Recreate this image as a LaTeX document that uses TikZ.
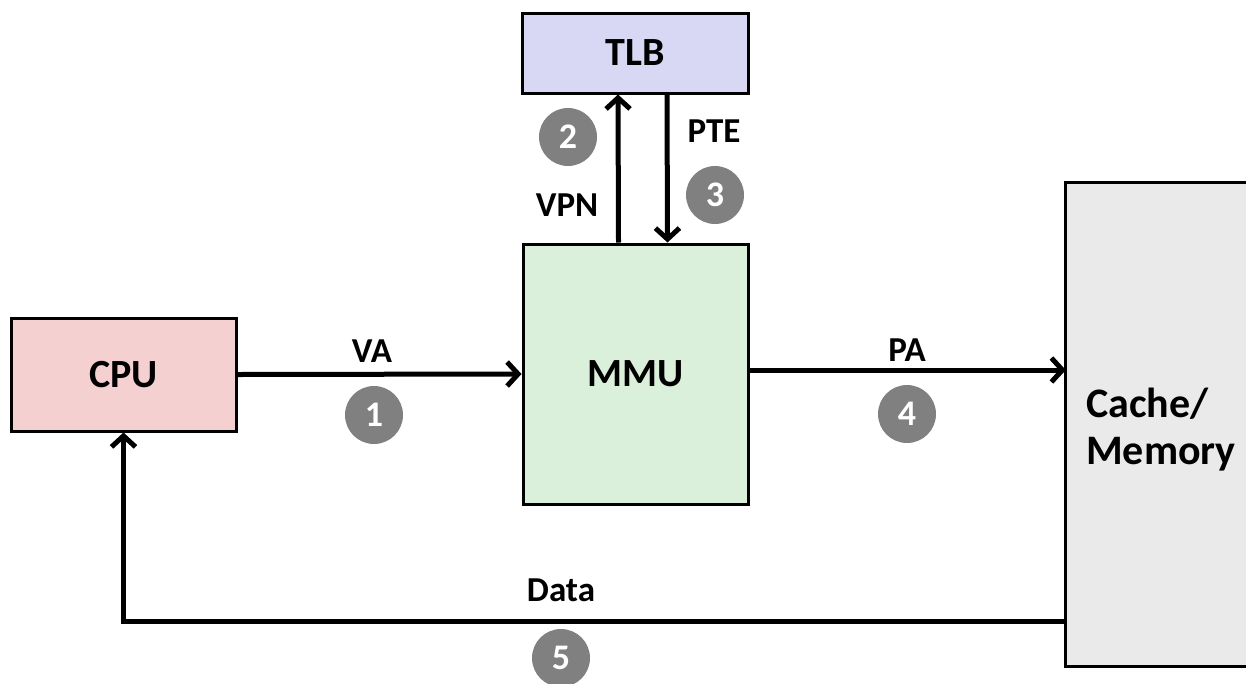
\documentclass[tikz,border=0pt]{standalone}
\usepackage{fontspec}
\setmainfont{Carlito}
\usetikzlibrary{arrows.meta}
\definecolor{cpufill}{RGB}{244,208,208}
\definecolor{mmufill}{RGB}{218,240,218}
\definecolor{tlbfill}{RGB}{216,216,244}
\definecolor{memfill}{RGB}{234,234,234}
\definecolor{stepgray}{RGB}{128,128,128}
\tikzset{
  unit/.style={draw=black, line width=3pt, inner sep=0pt, font=\fontsize{40}{44}\selectfont\bfseries},
  lbl/.style={font=\fontsize{35}{39}\selectfont\bfseries, inner sep=0pt},
  stepnum/.style={circle, fill=stepgray, minimum size=58pt, inner sep=0pt, text=white, font=\fontsize{36}{40}\selectfont\bfseries},
  arr/.style={line width=5pt, -{Straight Barb[length=11pt,width=24pt,line width=5pt]}},
  wire/.style={line width=5pt}
}
\begin{document}
\begin{tikzpicture}[x=1pt,y=-1pt]
\useasboundingbox (0,0) rectangle (1246,683);
% boxes
\node[unit, fill=tlbfill, minimum width=226pt, minimum height=80pt] (tlb) at (635,53) {TLB};
\node[unit, fill=mmufill, minimum width=225pt, minimum height=260pt] (mmu) at (635.5,374) {MMU};
\node[unit, fill=cpufill, minimum width=225pt, minimum height=113pt] (cpu) at (123.5,374.5) {CPU};
\node[fill=memfill, inner sep=0pt, minimum width=190pt, minimum height=483pt] (mem) at (1161,424.5) {};
\draw[line width=3pt] (mem.north east) -- (mem.north west) -- (mem.south west) -- (mem.south east);
\node[lbl, font=\fontsize{42}{47}\selectfont\bfseries, align=left, anchor=west] (memtxt) at (1086,430) {Cache/\\Memory};
% connectors
\draw[arr] (cpu.east) -- (mmu.west);
\draw[arr] ([yshift=4pt]mmu.east) -- ([yshift=4pt]mmu.east -| mem.west);
\draw[arr] ([xshift=-17pt]mmu.north) -- ([xshift=-17pt]tlb.south);
\draw[arr] ([xshift=32pt]tlb.south) -- ([xshift=32pt]mmu.north);
\coordinate (corner) at (cpu.south |- 0,621);
\draw[arr] (mem.west |- corner) -- (corner) -- (cpu.south);
% labels
\node[lbl] (va) at (372,351) {VA};
\node[lbl] (pa) at (907,350) {PA};
\node[lbl] (vpn) at (567,205) {VPN};
\node[lbl] (pte) at (714,131) {PTE};
\node[lbl] (data) at (561,590) {Data};
% step circles
\node[stepnum] (s1) at (374,415) {1};
\node[stepnum] (s2) at (568,137) {2};
\node[stepnum] (s3) at (715,195) {3};
\node[stepnum] (s4) at (907,414) {4};
\node[stepnum] (s5) at (561,658) {5};
\end{tikzpicture}
\end{document}
